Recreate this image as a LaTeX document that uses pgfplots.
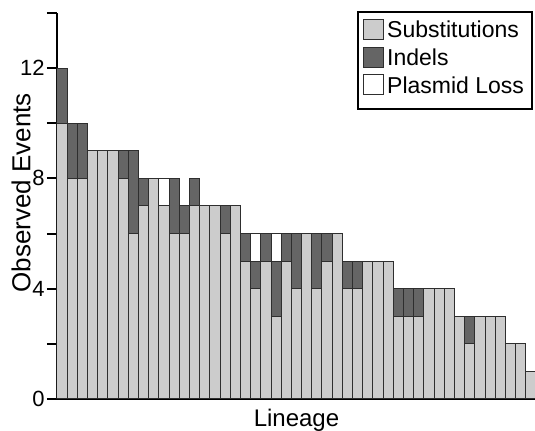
\documentclass[border=0pt]{standalone}
\usepackage{fontspec}
\setmainfont{Liberation Sans}
\usepackage{pgfplots}
\usepackage{pgfplotstable}
\pgfplotsset{compat=1.18}
\usetikzlibrary{calc}
\definecolor{SubGray}{HTML}{CCCCCC}
\definecolor{IndGray}{HTML}{656565}
\definecolor{EdgeGray}{HTML}{2E2E2E}

% lineage, substitutions, indels, plasmid loss
\pgfplotstableread{
x S I P
1 10 2 0
2 8 2 0
3 8 2 0
4 9 0 0
5 9 0 0
6 9 0 0
7 8 1 0
8 6 3 0
9 7 1 0
10 8 0 0
11 7 0 1
12 6 2 0
13 6 1 0
14 7 1 0
15 7 0 0
16 7 0 0
17 6 1 0
18 7 0 0
19 5 1 0
20 4 1 1
21 5 1 0
22 3 2 1
23 5 1 0
24 4 2 0
25 6 0 0
26 4 2 0
27 5 1 0
28 6 0 0
29 4 1 0
30 4 1 0
31 5 0 0
32 5 0 0
33 5 0 0
34 3 1 0
35 3 1 0
36 3 1 0
37 4 0 0
38 4 0 0
39 4 0 0
40 3 0 0
41 2 1 0
42 3 0 0
43 3 0 0
44 3 0 0
45 2 0 0
46 2 0 0
47 1 0 0
}\lineages

\begin{document}
\begin{tikzpicture}
\begin{axis}[
  scale only axis,
  width=239.5pt,
  height=193pt,
  ybar stacked,
  bar width=1,
  xmin=0.5, xmax=47.5,
  ymin=0, ymax=14,
  axis x line*=bottom,
  axis y line*=left,
  axis line style={line width=1pt, black},
  xtick=\empty,
  ytick={0,4,8,12},
  minor ytick={2,6,10,14},
  tick align=outside,
  major tick length=5pt,
  minor tick length=5pt,
  every tick/.style={line width=1pt, black},
  every minor tick/.style={line width=1pt, black},
  /pgf/number format/assume math mode=true,
  yticklabel style={font=\fontsize{11}{13}\selectfont, inner sep=1pt},
  xlabel={Lineage},
  ylabel={Observed Events},
  xlabel style={font=\fontsize{12}{14}\selectfont, at={(axis description cs:0.5,0)}, anchor=north, yshift=-1.5pt},
  ylabel style={font=\fontsize{13}{15}\selectfont, at={(axis description cs:-0.0752,0.534)}, anchor=center},
  legend style={at={(1,1)}, anchor=north east, xshift=-1.5pt, yshift=1pt,
    draw=black, line width=1pt, font=\fontsize{11.5}{13}\selectfont,
    inner xsep=2.5pt, inner ysep=3.5pt, row sep=0pt, column sep=0pt,
    nodes={inner xsep=1.5pt, inner ysep=0pt, text height=8.8pt, text depth=4.45pt},
    cells={anchor=west}},
  legend image code/.code={\draw[#1, line width=0.5pt] (0pt,-3pt) rectangle (10pt,7pt);},
]
\addplot[fill=SubGray, draw=EdgeGray, line width=0.5pt] table[x=x, y=S] {\lineages};
\addplot[fill=IndGray, draw=EdgeGray, line width=0.5pt] table[x=x, y=I] {\lineages};
\addplot[fill=white, draw=EdgeGray, line width=0.5pt] table[x=x, y=P] {\lineages};
\legend{Substitutions, Indels, Plasmid Loss}
\end{axis}
\pgfresetboundingbox
\path[use as bounding box] ($(current axis.south west)+(-28.5pt,-16pt)$) rectangle ($(current axis.north east)+(-0.5pt,6.5pt)$);
\end{tikzpicture}
\end{document}
